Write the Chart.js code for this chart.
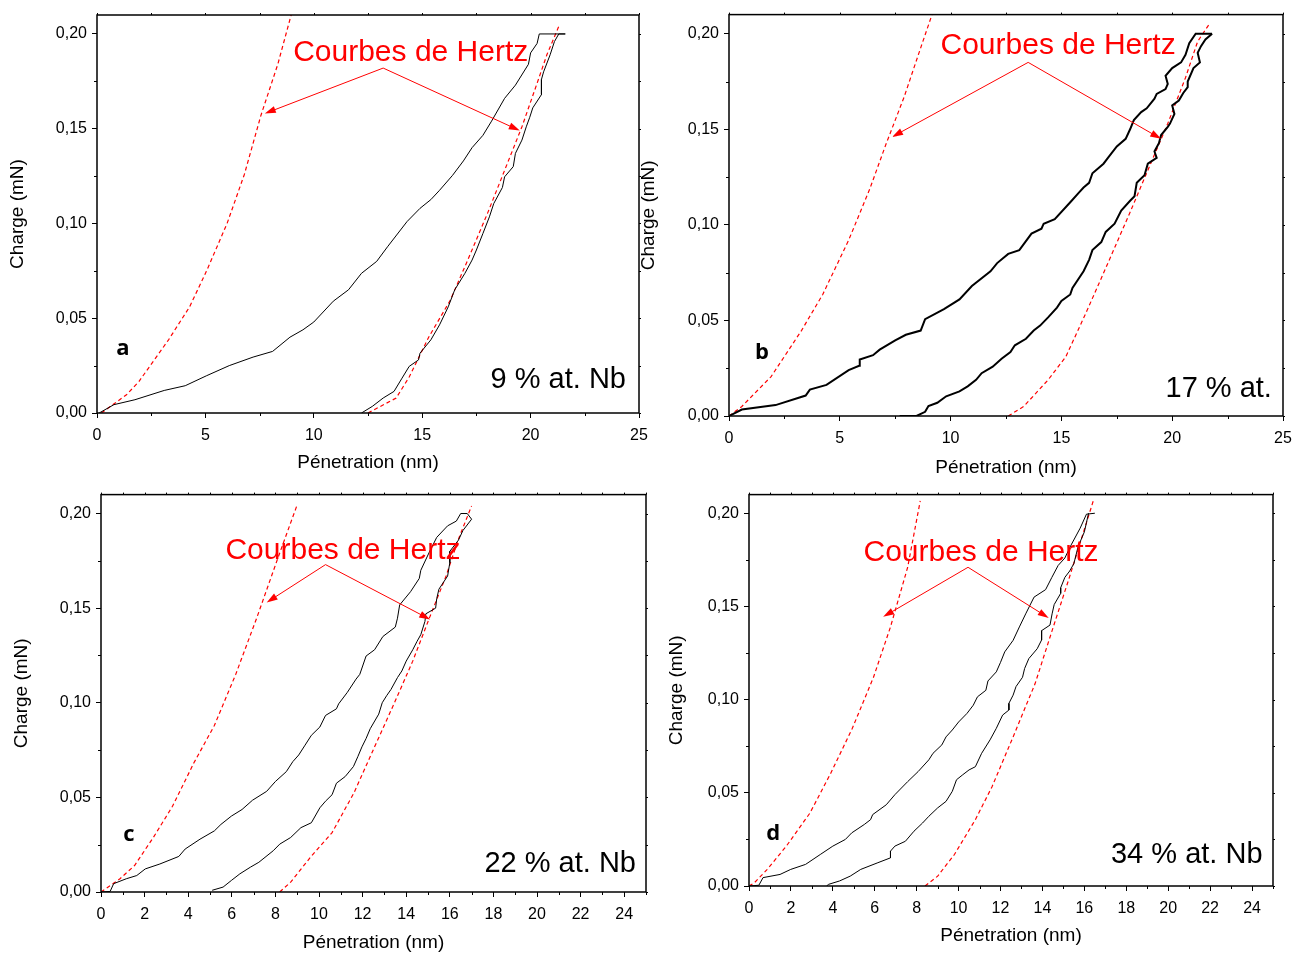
<!DOCTYPE html>
<html>
<head>
<meta charset="utf-8">
<script src="https://cdn.jsdelivr.net/npm/chart.js@4.4.0/dist/chart.umd.min.js"></script>
<style>
  body { margin: 0; background: #fff; }
  #wrap { position: relative; width: 1307px; height: 954px; overflow: hidden; background: #fff; }
  canvas { position: absolute; }
</style>
</head>
<body>
<div id="wrap">
  <canvas id="panelA"></canvas>
  <canvas id="panelB"></canvas>
  <canvas id="panelC"></canvas>
  <canvas id="panelD"></canvas>
</div>
<script>
// Load / unload curves, [penetration nm, charge mN]
const aLoad = [[0.1,0],[0.78,0.0044],[1.75,0.007],[3.1,0.0119],[4.07,0.0144],[5.04,0.0196],[6.1,0.025],[7.2,0.0295],[8.1,0.0325],[8.9,0.040],[9.5,0.0439],[10.0,0.048],[10.9,0.059],[11.6,0.065],[12.2,0.0737],[12.9,0.080],[13.4,0.0877],[14.3,0.101],[14.9,0.108],[15.4,0.1126],[15.8,0.1175],[16.4,0.1254],[16.9,0.133],[17.3,0.140],[17.8,0.1465],[18.2,0.154],[18.8,0.166],[19.3,0.173],[19.9,0.184],[20.0,0.190],[20.3,0.195],[20.4,0.2],[21.6,0.2]];
const aUnload = [[21.6,0.2],[21.3,0.2],[21.1,0.196],[20.9,0.189],[20.6,0.18],[20.5,0.176],[20.5,0.168],[20.1,0.161],[19.96,0.156],[19.8,0.151],[19.6,0.144],[19.3,0.137],[19.2,0.130],[18.8,0.1246],[18.7,0.119],[18.3,0.1105],[18.1,0.1035],[17.8,0.0947],[17.5,0.086],[17.3,0.0807],[16.97,0.0737],[16.5,0.065],[16.2,0.056],[15.8,0.0465],[15.4,0.0386],[14.9,0.0316],[14.83,0.028],[14.4,0.0246],[14.07,0.0184],[13.7,0.0114],[13.2,0.0079],[12.7,0.0035],[12.2,0]];
const aHertzLeft = [[0.2,0],[1.36,0.0096],[1.94,0.0167],[3.3,0.0386],[4.27,0.056],[5.04,0.0746],[6.0,0.1],[6.8,0.126],[7.56,0.157],[8.34,0.184],[9.05,0.214]];
const aHertzRight = [[12.5,0],[13.8,0.0079],[14.4,0.019],[15.3,0.040],[16.3,0.0596],[17.1,0.0807],[18.0,0.105],[18.8,0.128],[19.6,0.151],[20.3,0.174],[20.75,0.189],[21.3,0.204]];

const bLoad = [[0,0],[0.58,0.0034],[2.1,0.0057],[3.46,0.0107],[3.65,0.0138],[4.4,0.0163],[5.4,0.024],[5.87,0.0263],[5.9,0.0296],[6.5,0.0318],[6.8,0.0347],[7.5,0.0396],[7.98,0.0425],[8.65,0.0447],[8.85,0.0507],[9.7,0.0559],[10.4,0.061],[10.96,0.068],[11.8,0.0757],[12.1,0.080],[12.6,0.0848],[13.1,0.0868],[13.65,0.0954],[14.1,0.098],[14.2,0.1006],[14.7,0.103],[15.4,0.1118],[15.8,0.117],[16.0,0.1195],[16.25,0.122],[16.4,0.127],[16.9,0.132],[17.1,0.135],[17.5,0.141],[17.9,0.145],[18.1,0.150],[18.27,0.1548],[18.6,0.159],[18.85,0.161],[19.2,0.166],[19.3,0.1685],[19.7,0.171],[19.8,0.1737],[19.7,0.178],[20.0,0.182],[20.4,0.185],[20.6,0.189],[20.77,0.195],[21.06,0.2],[21.8,0.2]];
const bUnload = [[21.8,0.2],[21.5,0.197],[21.3,0.1935],[21.15,0.19],[21.25,0.185],[20.96,0.182],[20.7,0.175],[20.7,0.172],[20.5,0.169],[20.3,0.165],[20.0,0.1625],[20.1,0.158],[19.9,0.153],[19.8,0.1513],[19.5,0.147],[19.4,0.1427],[19.2,0.1384],[19.3,0.135],[18.9,0.132],[18.75,0.126],[18.4,0.122],[18.3,0.115],[18.1,0.1126],[17.7,0.1075],[17.4,0.1006],[17.0,0.0963],[16.8,0.091],[16.4,0.0868],[16.25,0.0817],[16.0,0.0757],[15.5,0.067],[15.4,0.0636],[15.0,0.0602],[14.8,0.0567],[14.4,0.0516],[14.04,0.0473],[13.75,0.0447],[13.4,0.0404],[12.9,0.037],[12.7,0.0335],[12.3,0.030],[11.9,0.0258],[11.4,0.0224],[11.15,0.0189],[10.77,0.0155],[10.4,0.0129],[9.8,0.0103],[9.4,0.0069],[9.0,0.0052],[8.85,0.0022],[8.46,0],[7.7,0]];
const bHertzLeft = [[0,0],[0.58,0.005],[1.9,0.0206],[3.27,0.0447],[4.23,0.0636],[5.4,0.092],[6.35,0.1187],[7.1,0.1427],[7.9,0.1668],[8.65,0.1926],[9.25,0.213]];
const bHertzRight = [[12.6,0],[13.3,0.005],[14.4,0.0189],[15.2,0.031],[16.15,0.055],[17.1,0.08],[18.1,0.1066],[19.04,0.1324],[19.8,0.153],[20.6,0.177],[21.15,0.196],[21.7,0.2055]];

const cLoad = [[0,0],[0.42,0.0003],[0.58,0.0044],[1.16,0.007],[1.64,0.0087],[2.03,0.0122],[2.7,0.0148],[3.57,0.0188],[3.86,0.0227],[4.54,0.0279],[5.2,0.0323],[5.5,0.0357],[5.98,0.0401],[6.47,0.0436],[6.95,0.0485],[7.6,0.0532],[8.0,0.0584],[8.5,0.0636],[8.8,0.0689],[9.07,0.0724],[9.36,0.0776],[9.65,0.0828],[10.04,0.0872],[10.3,0.0933],[10.8,0.0968],[10.9,0.0994],[11.3,0.1055],[11.7,0.1125],[11.87,0.115],[12.16,0.1247],[12.55,0.128],[12.93,0.135],[13.5,0.140],[13.6,0.1447],[13.7,0.1517],[14.2,0.1587],[14.6,0.1657],[14.67,0.170],[15.06,0.1796],[15.4,0.1874],[15.9,0.1935],[16.3,0.196],[16.5,0.2],[16.8,0.2]];
const cUnload = [[16.8,0.2],[17.0,0.197],[16.6,0.191],[16.4,0.186],[16.0,0.18],[16.0,0.174],[15.9,0.167],[15.5,0.160],[15.4,0.155],[15.35,0.15],[14.9,0.147],[14.86,0.143],[14.67,0.136],[14.5,0.1325],[14.3,0.128],[14.0,0.122],[13.8,0.1168],[13.6,0.1133],[13.3,0.107],[13.1,0.1037],[12.9,0.100],[12.74,0.094],[12.35,0.0863],[12.16,0.0811],[11.97,0.0767],[11.78,0.0715],[11.58,0.0663],[11.2,0.061],[10.8,0.0575],[10.6,0.0514],[10.3,0.048],[10.04,0.0445],[9.65,0.0366],[9.17,0.034],[8.7,0.0288],[8.2,0.0253],[7.9,0.0218],[7.24,0.0157],[6.85,0.0131],[6.37,0.0096],[5.98,0.0061],[5.6,0.0026],[5.1,0.0009]];
const cHertzLeft = [[0,0],[0.87,0.007],[1.54,0.014],[2.4,0.0288],[3.28,0.0453],[4.25,0.068],[5.2,0.088],[6.18,0.115],[7.14,0.1447],[8.1,0.176],[8.98,0.204]];
const cHertzRight = [[8.2,0],[8.7,0.0052],[9.65,0.019],[10.6,0.0314],[11.6,0.0523],[12.55,0.0767],[13.5,0.101],[14.3,0.122],[15.06,0.1447],[15.83,0.167],[16.4,0.1866],[17.0,0.204]];

const dLoad = [[0,0],[0.47,0.0004],[0.67,0.0045],[1.48,0.0062],[1.99,0.0089],[2.7,0.0116],[3.4,0.0169],[4.0,0.0214],[4.6,0.025],[4.9,0.0285],[5.5,0.033],[5.8,0.0356],[5.9,0.0383],[6.55,0.0436],[6.96,0.049],[7.57,0.056],[8.07,0.0614],[8.58,0.0677],[8.78,0.0712],[9.2,0.0757],[9.4,0.080],[9.7,0.0837],[10.0,0.088],[10.4,0.0926],[10.7,0.097],[10.9,0.1015],[11.3,0.105],[11.4,0.110],[11.8,0.1149],[12.0,0.120],[12.2,0.1256],[12.6,0.1318],[12.9,0.139],[13.2,0.146],[13.6,0.155],[14.15,0.159],[14.45,0.1656],[14.75,0.172],[15.07,0.176],[15.37,0.183],[15.8,0.192],[16.1,0.1995],[16.5,0.2]];
const dUnload = [[16.2,0.2],[16.1,0.195],[16.0,0.19],[15.7,0.182],[15.5,0.173],[15.3,0.169],[15.07,0.1656],[14.87,0.160],[14.87,0.157],[14.56,0.151],[14.46,0.146],[14.36,0.14],[13.96,0.137],[13.96,0.132],[13.75,0.1273],[13.35,0.122],[13.15,0.1167],[13.05,0.112],[12.74,0.107],[12.6,0.1024],[12.4,0.098],[12.4,0.0944],[12.1,0.0917],[11.8,0.0846],[11.5,0.0784],[11.1,0.0712],[10.8,0.064],[10.5,0.0623],[10.2,0.0597],[9.9,0.057],[9.7,0.0508],[9.4,0.0454],[9.0,0.0419],[8.58,0.0374],[8.28,0.0338],[7.87,0.0294],[7.46,0.024],[6.96,0.0214],[6.75,0.0187],[6.75,0.0151],[6.15,0.0125],[5.33,0.0089],[4.83,0.0053],[4.32,0.0027],[3.8,0.0009],[3.7,0]];
const dHertzLeft = [[0,0],[0.26,0.0018],[0.87,0.0089],[1.78,0.0214],[2.9,0.039],[3.9,0.0605],[4.93,0.0846],[5.94,0.112],[6.75,0.139],[7.57,0.171],[8.17,0.2066]];
const dHertzRight = [[8.4,0],[9.0,0.0053],[9.8,0.0169],[10.8,0.0356],[11.6,0.0534],[12.6,0.080],[13.65,0.1086],[14.46,0.137],[15.27,0.165],[15.98,0.1906],[16.45,0.2075]];

// Panel letters and compositions
const panelLetters = ["a", "b", "c", "d"];
const compositions = ["9 % at. Nb", "17 % at.", "22 % at. Nb", "34 % at. Nb"];

Chart.defaults.font.family = "'Liberation Sans', Arial, sans-serif";
Chart.defaults.color = "#000";

const FONT = "'Liberation Sans', Arial, sans-serif";

function toPoints(pairs) {
  return pairs.map((p) => ({ x: p[0], y: p[1] }));
}

function drawArrow(ctx, x0, y0, x1, y1) {
  const ang = Math.atan2(y1 - y0, x1 - x0);
  const len = 11, half = 3.5;
  ctx.beginPath();
  ctx.moveTo(x0, y0);
  ctx.lineTo(x1 - Math.cos(ang) * len * 0.7, y1 - Math.sin(ang) * len * 0.7);
  ctx.stroke();
  ctx.beginPath();
  ctx.moveTo(x1, y1);
  ctx.lineTo(x1 - len * Math.cos(ang) + half * Math.sin(ang), y1 - len * Math.sin(ang) - half * Math.cos(ang));
  ctx.lineTo(x1 - len * Math.cos(ang) - half * Math.sin(ang), y1 - len * Math.sin(ang) + half * Math.cos(ang));
  ctx.closePath();
  ctx.fill();
}

// frame, minor ticks, caption with arrows, panel letter and composition
function makeDecor(note, xStep) {
  return {
    id: "panelDecor",
    afterDatasetsDraw(chart) {
      const { ctx, scales: { x, y } } = chart;
      const px = (p) => [x.getPixelForValue(p[0]), y.getPixelForValue(p[1])];
      ctx.save();
      ctx.fillStyle = "#ff0000";
      ctx.strokeStyle = "#ff0000";
      ctx.lineWidth = 1;
      ctx.font = "30px " + FONT;
      ctx.textAlign = "center";
      ctx.textBaseline = "middle";
      const c = px(note.caption);
      ctx.fillText("Courbes de Hertz", c[0], c[1]);
      const ap = px(note.apex);
      note.tips.forEach((t) => {
        const tp = px(t);
        drawArrow(ctx, ap[0], ap[1], tp[0], tp[1]);
      });
      ctx.fillStyle = "#000";
      ctx.font = "bold 22px 'Open Sans', sans-serif";
      const l = px(note.letterAt);
      ctx.fillText(note.letter, l[0], l[1]);
      ctx.font = "29px " + FONT;
      ctx.textAlign = "right";
      const t = px(note.compAt);
      ctx.fillText(note.comp, t[0], t[1]);
      ctx.restore();
    },
    afterDraw(chart) {
      const { ctx, chartArea: a, scales: { x, y } } = chart;
      ctx.save();
      ctx.strokeStyle = "#000";
      ctx.lineWidth = 1;
      ctx.beginPath();
      for (let v = 0; v <= 25.001; v += xStep / 2) {
        const p = Math.round(x.getPixelForValue(v)) + 0.5;
        const major = Math.abs(v / xStep - Math.round(v / xStep)) < 1e-6;
        if (!major) {
          ctx.moveTo(p, a.bottom);
          ctx.lineTo(p, a.bottom + 3);
        }
        ctx.moveTo(p, a.top);
        ctx.lineTo(p, a.top - 2);
      }
      for (let v = 0; v <= 0.2001; v += 0.025) {
        const p = Math.round(y.getPixelForValue(v)) + 0.5;
        const major = Math.abs(v / 0.05 - Math.round(v / 0.05)) < 1e-6;
        if (!major) {
          ctx.moveTo(a.left, p);
          ctx.lineTo(a.left - 3, p);
        }
        ctx.moveTo(a.right, p);
        ctx.lineTo(a.right + 2, p);
      }
      ctx.stroke();
      ctx.lineWidth = 1.5;
      ctx.strokeRect(a.left, a.top, a.right - a.left, a.bottom - a.top);
      ctx.restore();
    },
  };
}

const panels = [
  { id: "panelA", box: [0, 0, 660, 480], plot: [97, 15, 639, 413], xStep: 5, lineW: 1,
    xTitleY: 463, yTitleX: 18, curves: [aLoad, aUnload], hertz: [aHertzLeft, aHertzRight],
    note: { caption: [14.47, 0.19], apex: [13.2, 0.182], tips: [[7.74, 0.158], [19.5, 0.149]],
            letter: panelLetters[0], letterAt: [1.2, 0.0338], comp: compositions[0], compAt: [24.4, 0.0174] } },
  { id: "panelB", box: [636, 0, 667, 485], plot: [729, 10, 1283, 416], xStep: 5, lineW: 2,
    xTitleY: 468, yTitleX: 649, curves: [bLoad, bUnload], hertz: [bHertzLeft, bHertzRight],
    note: { caption: [14.85, 0.1938], apex: [13.5, 0.185], tips: [[7.36, 0.146], [19.5, 0.145]],
            letter: panelLetters[1], letterAt: [1.49, 0.033], comp: compositions[1], compAt: [24.5, 0.014] } },
  { id: "panelC", box: [0, 480, 660, 480], plot: [101, 492, 646, 892], xStep: 2, lineW: 1,
    xTitleY: 943, yTitleX: 22, curves: [cLoad, cUnload], hertz: [cHertzLeft, cHertzRight],
    note: { caption: [11.1, 0.1806], apex: [10.3, 0.173], tips: [[7.6, 0.153], [15.1, 0.144]],
            letter: panelLetters[2], letterAt: [1.28, 0.0304], comp: compositions[2], compAt: [24.54, 0.0147] } },
  { id: "panelD", box: [655, 480, 640, 480], plot: [749, 493, 1273, 886], xStep: 2, lineW: 1,
    xTitleY: 936, yTitleX: 677, curves: [dLoad, dUnload], hertz: [dHertzLeft, dHertzRight],
    note: { caption: [11.07, 0.1786], apex: [10.45, 0.171], tips: [[6.4, 0.1444], [14.3, 0.1438]],
            letter: panelLetters[3], letterAt: [1.15, 0.0283], comp: compositions[3], compAt: [24.5, 0.0166] } },
];

panels.forEach((pn) => {
  const [cl, ct, cw, ch] = pn.box;
  const [pl, pt, pr, pb] = pn.plot;
  const canvas = document.getElementById(pn.id);
  canvas.width = cw;
  canvas.height = ch;
  canvas.style.left = cl + "px";
  canvas.style.top = ct + "px";

  const yAxisW = pl - cl;
  const xAxisH = ct + ch - pb;
  const titleLH = 19 * 1.2;

  const datasets = [];
  pn.curves.forEach((c) => {
    datasets.push({ data: toPoints(c), borderColor: "#000", borderWidth: pn.lineW, pointRadius: 0, showLine: true, tension: 0 });
  });
  pn.hertz.forEach((c) => {
    datasets.push({ data: toPoints(c), borderColor: "#ff0000", borderWidth: 1.2, borderDash: [4, 3], pointRadius: 0, showLine: true, tension: 0 });
  });

  new Chart(canvas, {
    type: "scatter",
    data: { datasets: datasets },
    options: {
      responsive: false,
      animation: false,
      devicePixelRatio: 1,
      layout: { padding: { top: pt - ct, right: cl + cw - pr, left: 0, bottom: 0 } },
      plugins: { legend: { display: false }, tooltip: { enabled: false } },
      scales: {
        x: {
          type: "linear",
          min: 0,
          max: 25,
          afterFit: (s) => { s.height = xAxisH; },
          ticks: { stepSize: pn.xStep, includeBounds: false, autoSkip: false, maxRotation: 0, padding: 8, font: { size: 16 }, color: "#000" },
          grid: { drawOnChartArea: false, tickLength: 5, color: "#000", lineWidth: 1 },
          border: { display: false },
          title: { display: true, text: "Pénetration (nm)", font: { size: 19 }, color: "#000",
                   padding: { top: 0, bottom: ct + ch - pn.xTitleY - titleLH / 2 } },
        },
        y: {
          type: "linear",
          min: 0,
          max: 0.21,
          afterFit: (s) => { s.width = yAxisW; },
          ticks: { stepSize: 0.05, includeBounds: false, padding: 5, font: { size: 16 }, color: "#000",
                   callback: (v) => v.toFixed(2).replace(".", ",") },
          grid: { drawOnChartArea: false, tickLength: 5, color: "#000", lineWidth: 1 },
          border: { display: false },
          title: { display: true, text: "Charge (mN)", font: { size: 19 }, color: "#000",
                   padding: { top: pn.yTitleX - cl - titleLH / 2, bottom: 0 } },
        },
      },
    },
    plugins: [makeDecor(pn.note, pn.xStep)],
  });
});
</script>
</body>
</html>
